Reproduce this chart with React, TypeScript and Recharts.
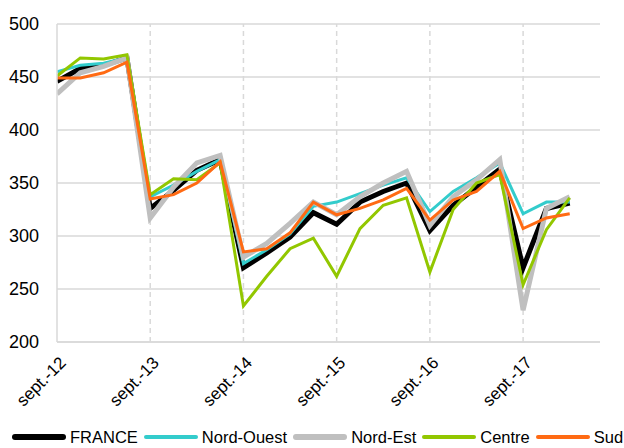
import { LineChart, Line, XAxis, YAxis, CartesianGrid, Legend, ReferenceLine } from 'recharts'

const quarters = [
  'sept.-12', 'déc.-12', 'mars-13', 'juin-13',
  'sept.-13', 'déc.-13', 'mars-14', 'juin-14',
  'sept.-14', 'déc.-14', 'mars-15', 'juin-15',
  'sept.-15', 'déc.-15', 'mars-16', 'juin-16',
  'sept.-16', 'déc.-16', 'mars-17', 'juin-17',
  'sept.-17', 'déc.-17', 'mars-18',
]

const france = [446, 458, 461, 468, 326, 343, 362, 372, 270, 284, 299, 322, 311, 332, 342, 350, 305, 329, 346, 363, 270, 326, 331]
const nordOuest = [455, 461, 463, 468, 337, 348, 361, 372, 274, 287, 302, 328, 332, 340, 348, 355, 323, 342, 355, 369, 321, 332, 332]
const nordEst = [434, 454, 460, 468, 317, 346, 369, 376, 280, 293, 312, 332, 320, 337, 350, 361, 310, 337, 353, 372, 230, 326, 337]
const centre = [451, 468, 467, 471, 339, 354, 353, 369, 234, 262, 288, 298, 262, 307, 329, 336, 266, 325, 350, 358, 254, 306, 336]
const sud = [449, 449, 454, 464, 335, 339, 350, 370, 285, 288, 303, 332, 320, 326, 334, 345, 315, 334, 342, 361, 307, 317, 321]

const yTicks = [200, 250, 300, 350, 400, 450, 500]
const yearTicks = [0, 4, 8, 12, 16, 20]

const series = [
  { key: 'france', name: 'FRANCE', color: '#000000', width: 5 },
  { key: 'nordOuest', name: 'Nord-Ouest', color: '#33CCCC', width: 3 },
  { key: 'nordEst', name: 'Nord-Est', color: '#BFBFBF', width: 5 },
  { key: 'centre', name: 'Centre', color: '#92C700', width: 3 },
  { key: 'sud', name: 'Sud', color: '#FF6A13', width: 3 },
]

const data = quarters.map((q, i) => ({
  idx: i,
  label: q,
  france: france[i],
  nordOuest: nordOuest[i],
  nordEst: nordEst[i],
  centre: centre[i],
  sud: sud[i],
}))

const font = '"Liberation Sans", Arial, sans-serif'

function XTick(props: any) {
  const { x, y, payload } = props
  return (
    <g transform={`translate(${x + 7},${y + 11})`}>
      <text
        textAnchor="end"
        transform="rotate(-45)"
        fontSize={17}
        fontFamily={font}
        fill="#000"
        dy={4}
      >
        {quarters[payload.value]}
      </text>
    </g>
  )
}

function ChartLegend() {
  return (
    <div
      style={{
        display: 'flex',
        alignItems: 'center',
        height: 22,
        fontFamily: font,
        fontSize: 16.5,
        color: '#000',
        marginLeft: 5,
        whiteSpace: 'nowrap',
      }}
    >
      {series.map((s) => (
        <div key={s.key} style={{ display: 'flex', alignItems: 'center', marginRight: 6 }}>
          <span
            style={{
              display: 'inline-block',
              width: 54,
              height: s.width + 1,
              borderRadius: 3,
              background: s.color,
              marginRight: 4,
            }}
          />
          <span>{s.name}</span>
        </div>
      ))}
    </div>
  )
}

export default function App() {
  return (
    <div style={{ position: 'absolute', left: 0, top: 0, width: 624, height: 448, background: '#fff' }}>
      <LineChart width={624} height={448} data={data} margin={{ top: 24, right: 24, left: 7, bottom: 0 }}>
        <CartesianGrid vertical={false} stroke="#D9D9D9" strokeWidth={1.5} />
        {yearTicks.slice(1).map((t) => (
          <ReferenceLine key={t} x={t} stroke="#D9D9D9" strokeWidth={1.5} strokeDasharray="5 4" />
        ))}
        <XAxis
          dataKey="idx"
          type="number"
          domain={[0, 23.3]}
          ticks={yearTicks}
          tick={<XTick />}
          tickLine={false}
          axisLine={{ stroke: '#D9D9D9', strokeWidth: 1.5 }}
          height={84}
          interval={0}
          allowDataOverflow
        />
        <YAxis
          domain={[200, 500]}
          ticks={yTicks}
          width={50}
          tickLine={false}
          axisLine={{ stroke: '#D9D9D9', strokeWidth: 1.5 }}
          tick={{ fontSize: 18, fontFamily: font, fill: '#000' }}
          tickMargin={12}
        />
        <Legend verticalAlign="bottom" height={22} content={<ChartLegend />} />
        {series.map((s) => (
          <Line
            key={s.key}
            dataKey={s.key}
            name={s.name}
            stroke={s.color}
            strokeWidth={s.width}
            dot={false}
            type="linear"
            isAnimationActive={false}
          />
        ))}
      </LineChart>
    </div>
  )
}
